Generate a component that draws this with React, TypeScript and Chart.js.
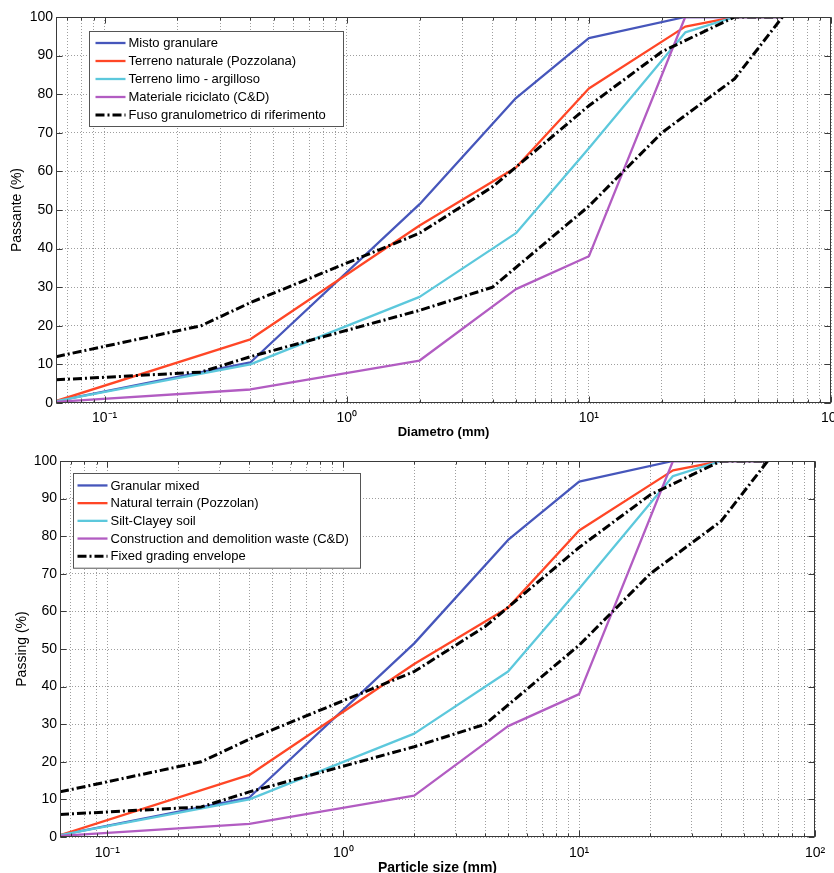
import React, { useEffect, useRef } from 'react';
import { Chart, registerables } from 'chart.js';

Chart.register(...registerables);

// ---- data ----
const sieveSizes = [0.063, 0.4, 2, 5, 10, 25, 40, 63];
const mistoGranulare = [0.5, 10.5, 51.5, 79, 94.5, 100, 100, 100];
const terrenoNaturale = [0.5, 16.5, 46, 61, 81.5, 97.5, 100, 100];
const terrenoLimo = [0.5, 10, 27.5, 44, 66, 96, 100, 100];
const materialeRiciclato = [0.3, 3.5, 11, 29.5, 38, 100, 100, 100];

const envelopeSizes = [0.063, 0.25, 0.4, 2, 4, 10, 20, 40, 63];
const envelopeUpper = [12, 20, 26, 44, 56, 77, 91, 100, 100];
const envelopeLower = [6, 8, 12, 24, 30, 51, 70, 84, 100];

const labelsIt = [
  'Misto granulare',
  'Terreno naturale (Pozzolana)',
  'Terreno limo - argilloso',
  'Materiale riciclato (C&D)',
  'Fuso granulometrico di riferimento',
];
const labelsEn = [
  'Granular mixed',
  'Natural terrain (Pozzolan)',
  'Silt-Clayey soil',
  'Construction and demolition waste (C&D)',
  'Fixed grading envelope',
];

const xGridValues = [
  0.07, 0.08, 0.09,
  0.1, 0.2, 0.3, 0.4, 0.5, 0.6, 0.7, 0.8, 0.9,
  1, 2, 3, 4, 5, 6, 7, 8, 9,
  10, 20, 30, 40, 50, 60, 70, 80, 90,
  100,
];
const decadeValues = [0.1, 1, 10, 100];
const decadeLabels = ['10\u207B\u00B9', '10\u2070', '10\u00B9', '10\u00B2'];
const yTickStep = 10;

const FONT = 'Liberation Sans, Arial, Helvetica, sans-serif';
const COLORS = ['#4656bb', '#ff4626', '#5cc8dc', '#b25cc2', '#000000'];

function decadeIndex(v: number): number {
  for (let i = 0; i < decadeValues.length; i++) {
    if (Math.abs(Math.log10(v) - Math.log10(decadeValues[i])) < 1e-6) return i;
  }
  return -1;
}

const framePlugin = {
  id: 'frameLegend',
  afterDraw(chart: any, _args: any, opts: any) {
    const { ctx, chartArea } = chart;
    const L = Math.round(chartArea.left) + 0.5;
    const R = Math.round(chartArea.right) - 0.5;
    const T = Math.round(chartArea.top) + 0.5;
    const B = Math.round(chartArea.bottom) - 0.5;
    ctx.save();
    ctx.strokeStyle = '#3a3a3a';
    ctx.lineWidth = 1;
    ctx.setLineDash([]);
    // inward ticks
    const xs = chart.scales.x;
    ctx.beginPath();
    for (const t of xs.ticks) {
      const px = Math.round(xs.getPixelForValue(t.value)) + 0.5;
      const len = decadeIndex(t.value) >= 0 ? 6 : 3;
      ctx.moveTo(px, B);
      ctx.lineTo(px, B - len);
      ctx.moveTo(px, T);
      ctx.lineTo(px, T + len);
    }
    const ys = chart.scales.y;
    for (let v = 0; v <= 100; v += yTickStep) {
      const py = Math.round(ys.getPixelForValue(v)) + 0.5;
      ctx.moveTo(L, py);
      ctx.lineTo(L + 6, py);
      ctx.moveTo(R, py);
      ctx.lineTo(R - 6, py);
    }
    ctx.stroke();
    ctx.strokeRect(L, T, R - L, B - T);

    // legend box
    const items = chart.data.datasets
      .filter((d: any) => d.legendIndex >= 0)
      .sort((a: any, b: any) => a.legendIndex - b.legendIndex);
    const x0 = Math.round(chartArea.left + opts.dx) + 0.5;
    const y0 = Math.round(chartArea.top + opts.dy) + 0.5;
    const h = items.length * opts.rowH + opts.padY * 2;
    ctx.fillStyle = '#ffffff';
    ctx.fillRect(x0, y0, opts.w, h);
    ctx.strokeStyle = '#555555';
    ctx.lineWidth = 1;
    ctx.strokeRect(x0, y0, opts.w, h);
    ctx.font = `${opts.fontSize}px ${FONT}`;
    ctx.textBaseline = 'middle';
    ctx.textAlign = 'left';
    items.forEach((d: any, i: number) => {
      const cy = y0 + opts.padY + opts.rowH * (i + 0.5);
      ctx.beginPath();
      ctx.strokeStyle = d.borderColor;
      ctx.lineWidth = d.borderWidth;
      ctx.setLineDash(d.borderDash || []);
      ctx.moveTo(x0 + opts.sampleLeft, cy);
      ctx.lineTo(x0 + opts.sampleLeft + opts.sampleLen, cy);
      ctx.stroke();
      ctx.setLineDash([]);
      ctx.fillStyle = '#000000';
      ctx.fillText(d.label, x0 + opts.sampleLeft + opts.sampleLen + opts.gap, cy + 0.5);
    });
    ctx.restore();
  },
};

function pts(xs: number[], ys: number[]) {
  return xs.map((x, i) => ({ x, y: ys[i] }));
}

function buildDatasets(names: string[]) {
  const common = {
    showLine: true,
    pointRadius: 0,
    pointHoverRadius: 0,
    fill: false,
    tension: 0,
    borderJoinStyle: 'round',
    borderCapStyle: 'butt',
  };
  const dash = [9, 3, 2, 3];
  return [
    { ...common, label: names[4], data: pts(envelopeSizes, envelopeUpper), borderColor: COLORS[4], borderWidth: 3, borderDash: dash, order: 0, legendIndex: 4 },
    { ...common, label: names[4], data: pts(envelopeSizes, envelopeLower), borderColor: COLORS[4], borderWidth: 3, borderDash: dash, order: 0, legendIndex: -1 },
    { ...common, label: names[3], data: pts(sieveSizes, materialeRiciclato), borderColor: COLORS[3], borderWidth: 2.3, order: 1, legendIndex: 3 },
    { ...common, label: names[2], data: pts(sieveSizes, terrenoLimo), borderColor: COLORS[2], borderWidth: 2.3, order: 2, legendIndex: 2 },
    { ...common, label: names[1], data: pts(sieveSizes, terrenoNaturale), borderColor: COLORS[1], borderWidth: 2.3, order: 3, legendIndex: 1 },
    { ...common, label: names[0], data: pts(sieveSizes, mistoGranulare), borderColor: COLORS[0], borderWidth: 2.3, order: 4, legendIndex: 0 },
  ];
}

function makeConfig(p: any): any {
  const gridCommon = { color: 'rgba(0,0,0,0.38)', lineWidth: 1, drawTicks: false };
  return {
    type: 'scatter',
    data: { datasets: buildDatasets(p.names) },
    options: {
      animation: false,
      responsive: false,
      events: [],
      layout: { padding: { top: p.padTop, right: p.padRight, left: 0, bottom: 0 } },
      plugins: {
        legend: { display: false },
        tooltip: { enabled: false },
        frameLegend: p.legend,
      },
      scales: {
        x: {
          type: 'logarithmic',
          min: 0.063,
          max: 100,
          afterBuildTicks: (s: any) => {
            s.ticks = xGridValues.map((v) => ({ value: v }));
          },
          afterFit: (s: any) => {
            s.height = p.xAxisH;
            s.paddingLeft = 0;
            s.paddingRight = 0;
          },
          ticks: {
            autoSkip: false,
            maxRotation: 0,
            minRotation: 0,
            padding: p.xTickPad,
            color: '#000000',
            font: { family: FONT, size: 14 },
            callback: (v: number) => {
              const i = decadeIndex(v);
              return i >= 0 ? decadeLabels[i] : '';
            },
          },
          grid: gridCommon,
          border: { display: false, dash: [1, 2] },
          title: {
            display: true,
            text: p.xTitle,
            color: '#000000',
            font: { family: FONT, size: p.xTitleSize, weight: 'bold' },
            padding: { top: 0, bottom: p.xTitleBottom },
          },
        },
        y: {
          type: 'linear',
          min: 0,
          max: 100,
          afterFit: (s: any) => {
            s.width = p.yAxisW;
            s.paddingTop = 0;
            s.paddingBottom = 0;
          },
          ticks: {
            stepSize: yTickStep,
            padding: 3,
            color: '#000000',
            font: { family: FONT, size: 14 },
          },
          grid: gridCommon,
          border: { display: false, dash: [1, 2] },
          title: {
            display: true,
            text: p.yTitle,
            color: '#000000',
            font: { family: FONT, size: 14 },
            padding: { top: p.yTitleTop, bottom: 0 },
          },
        },
      },
    },
    plugins: [framePlugin],
  };
}

const topParams = {
  names: labelsIt,
  xTitle: 'Diametro (mm)',
  yTitle: 'Passante (%)',
  padTop: 17,
  padRight: 3,
  yAxisW: 56,
  xAxisH: 37,
  xTickPad: 7,
  xTitleSize: 13,
  xTitleBottom: 0,
  yTitleTop: 9,
  legend: { dx: 33, dy: 14, w: 254, rowH: 18, padY: 2.5, sampleLeft: 6, sampleLen: 30, gap: 3, fontSize: 13 },
};

const bottomParams = {
  names: labelsEn,
  xTitle: 'Particle size (mm)',
  yTitle: 'Passing (%)',
  padTop: 21,
  padRight: 19,
  yAxisW: 60,
  xAxisH: 43,
  xTickPad: 8,
  xTitleSize: 14,
  xTitleBottom: 3,
  yTitleTop: 13.6,
  legend: { dx: 13, dy: 12, w: 287, rowH: 17.7, padY: 3.1, sampleLeft: 4, sampleLen: 30, gap: 3, fontSize: 13 },
};

function GradingChart({ params, top }: { params: any; top: number }) {
  const ref = useRef<HTMLCanvasElement | null>(null);
  useEffect(() => {
    if (!ref.current) return;
    const chart = new Chart(ref.current, makeConfig(params));
    return () => chart.destroy();
  }, [params]);
  return (
    <canvas
      ref={ref}
      width={834}
      height={440}
      style={{ position: 'absolute', left: 0, top, width: 834, height: 440, display: 'block' }}
    />
  );
}

export default function App() {
  return (
    <div
      style={{
        position: 'absolute',
        left: 0,
        top: 0,
        width: 834,
        height: 873,
        overflow: 'hidden',
        background: '#ffffff',
      }}
    >
      <GradingChart params={topParams} top={0} />
      <GradingChart params={bottomParams} top={440} />
    </div>
  );
}
